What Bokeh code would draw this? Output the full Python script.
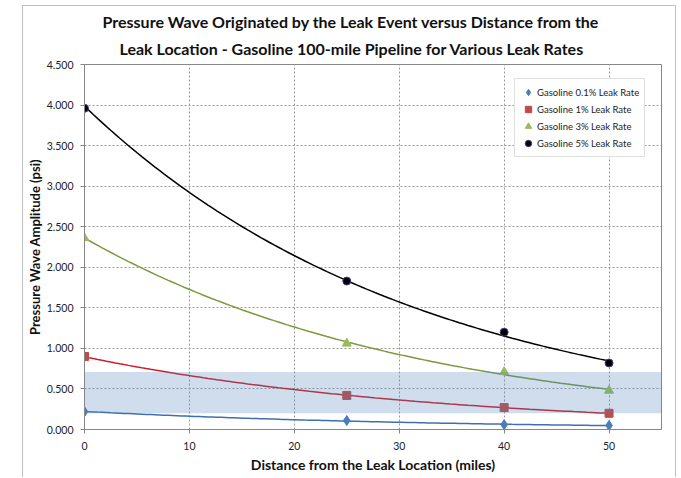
import numpy as np
from bokeh.plotting import figure
from bokeh.models import (Range1d, FixedTicker, NumeralTickFormatter, Legend,
                          LegendItem, Title, BoxAnnotation)
from bokeh.embed import file_html
from bokeh.resources import INLINE

# ---------------- data ----------------
distance = [0, 25, 40, 50]
leak_0_1 = [0.22, 0.11, 0.06, 0.05]
leak_1 = [0.90, 0.42, 0.27, 0.20]
leak_3 = [2.36, 1.06, 0.71, 0.48]
leak_5 = [3.96, 1.83, 1.20, 0.82]
series_names = ["Gasoline 0.1% Leak Rate", "Gasoline 1% Leak Rate",
                "Gasoline 3% Leak Rate", "Gasoline 5% Leak Rate"]
band_low, band_high = 0.20, 0.71
x_ticks = [0, 10, 20, 30, 40, 50]
y_ticks = [0.0, 0.5, 1.0, 1.5, 2.0, 2.5, 3.0, 3.5, 4.0, 4.5]
title_lines = ["Pressure Wave Originated by the Leak Event versus Distance from the",
               "Leak Location - Gasoline 100-mile Pipeline for Various Leak Rates"]
x_title = "Distance from the Leak Location (miles)"
y_title = "Pressure Wave Amplitude (psi)"

FONT = "Lato"

p = figure(width=654, height=472, output_backend="svg", toolbar_location=None,
           x_range=Range1d(0, 55), y_range=Range1d(0, 4.5),
           min_border_left=60, min_border_right=16, min_border_top=58,
           min_border_bottom=49, background_fill_color="white",
           border_fill_color="white")
p.title = None
p.margin = (5, 0, 0, 22)
p.styles = {"border-left": "1px solid #BFBFBF", "border-top": "1px solid #BFBFBF",
            "border-right": "1px solid #BFBFBF"}

p.outline_line_color = "#878787"

for ax in (p.xaxis[0], p.yaxis[0]):
    ax.axis_line_color = "#878787"
    ax.major_tick_line_color = "#878787"
    ax.minor_tick_line_color = None
    ax.major_tick_in = 0
    ax.major_tick_out = 4
    ax.major_label_text_font = FONT
    ax.major_label_text_font_size = "10.5px"
    ax.major_label_text_color = "#222222"
    ax.axis_label_text_font = FONT
    ax.axis_label_text_font_style = "bold"
    ax.axis_label_text_color = "#111111"

p.xaxis.axis_label_text_font_size = "14px"
p.yaxis.axis_label_text_font_size = "13px"
p.xaxis.ticker = FixedTicker(ticks=x_ticks)
p.yaxis.ticker = FixedTicker(ticks=y_ticks)
p.yaxis.formatter = NumeralTickFormatter(format="0.000")
p.xaxis.axis_label = x_title
p.yaxis.axis_label = y_title
p.xaxis.major_label_standoff = 8
p.yaxis.major_label_standoff = 7
p.xaxis.axis_label_standoff = 3
p.yaxis.axis_label_standoff = 1

for g in (p.xgrid[0], p.ygrid[0]):
    g.grid_line_color = "#9A9A9A"
    g.grid_line_dash = "2 2"
    g.grid_line_width = 1

def exp_trend(xs, ys):
    b, a = np.polyfit(np.array(xs, float), np.log(np.array(ys, float)), 1)
    xx = np.linspace(min(xs), max(xs), 120)
    return xx, np.exp(a + b * xx)

styles = [
    (leak_0_1, "#3F6FAE", "diamond", 10, "#4A7EBB", "#4A7EBB"),
    (leak_1, "#D01E28", "square", 8, "#BE4B48", "#BE4B48"),
    (leak_3, "#7A9A3E", "triangle", 9, "#9BBB59", "#9BBB59"),
    (leak_5, "#000000", "circle", 8, "#000000", "#4B3A8C"),
]

items = []
for (ys, lc, mk, sz, fc, ec), name in zip(styles, series_names):
    xx, yy = exp_trend(distance, ys)
    p.line(xx, yy, line_color=lc, line_width=1.5)
    r = p.scatter(distance, ys, marker=mk, size=sz, fill_color=fc, line_color=ec,
                  line_width=1)
    items.append(LegendItem(label=name, renderers=[r]))

band = BoxAnnotation(bottom=band_low, top=band_high, fill_color="#4F81BD",
                     fill_alpha=0.27, line_alpha=0)
p.add_layout(band)

legend = Legend(items=items, location=(430, 272))
legend.label_text_font = FONT
legend.label_text_font_size = "9.5px"
legend.label_text_color = "#222222"
legend.glyph_width = 16
legend.glyph_height = 16
legend.label_height = 16
legend.label_width = 100
legend.spacing = 1
legend.padding = 5
legend.margin = 0
legend.label_standoff = 1
legend.border_line_color = "#BFBFBF"
legend.background_fill_color = "white"
legend.background_fill_alpha = 1
p.add_layout(legend)

# title lines: second line nearest the plot, first line above it
for txt, off, so in [(title_lines[1], 35, 14), (title_lines[0], 18, -2)]:
    p.add_layout(Title(text=txt, align="left", offset=off, standoff=so,
                       text_font=FONT, text_font_size="16px",
                       text_font_style="bold", text_color="#111111"), "above")

open("out.html", "w").write(file_html(p, INLINE))
